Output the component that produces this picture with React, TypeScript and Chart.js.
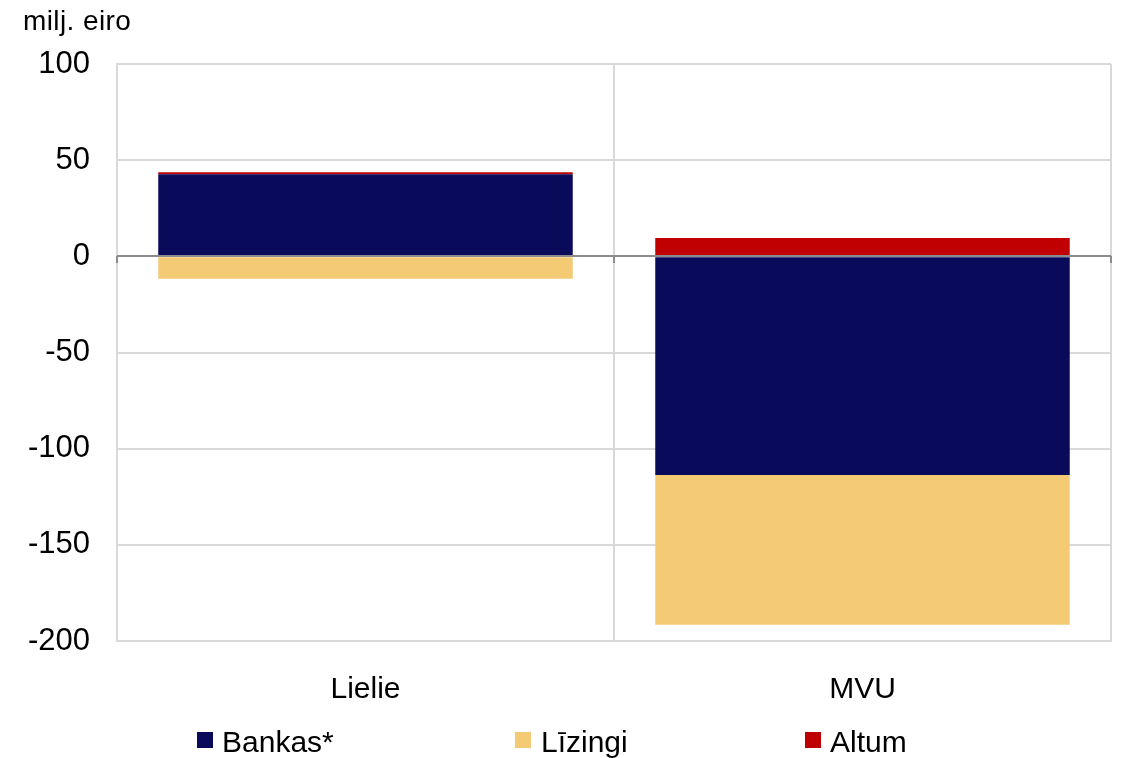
import React, { useEffect, useRef } from "react";
import { Chart, registerables } from "chart.js";

Chart.register(...registerables);

const categories = ["Lielie", "MVU"];
const bankas = [42.7, -113.7];
const lizingi = [-11.6, -77.8];
const altum = [1.0, 9.5];
const seriesNames = ["Bankas*", "Līzingi", "Altum"];
const seriesColors = ["#0a0a5a", "#f5ca75", "#c00000"];
const yMin = -200;
const yMax = 100;
const yStep = 50;
const unitLabel = "milj. eiro";

const FONT = "'Liberation Sans', Arial, sans-serif";

const zeroLinePlugin = {
  id: "zeroLine",
  afterDatasetsDraw(chart: any) {
    const { ctx } = chart;
    const x = chart.scales.x;
    const y = chart.scales.y;
    const y0 = Math.round(y.getPixelForValue(0));
    ctx.save();
    ctx.strokeStyle = "#8c8c8c";
    ctx.lineWidth = 2;
    ctx.beginPath();
    ctx.moveTo(x.left, y0);
    ctx.lineTo(x.right, y0);
    const mid = (x.getPixelForValue(0) + x.getPixelForValue(1)) / 2;
    [x.left, mid, x.right].forEach((px: number) => {
      ctx.moveTo(px, y0);
      ctx.lineTo(px, y0 + 7);
    });
    ctx.stroke();
    ctx.restore();
  },
};

export default function App() {
  const ref = useRef<HTMLCanvasElement | null>(null);

  useEffect(() => {
    if (!ref.current) return;
    const chart = new Chart(ref.current, {
      type: "bar",
      data: {
        labels: categories,
        datasets: [
          { label: seriesNames[0], data: bankas, backgroundColor: seriesColors[0] },
          { label: seriesNames[1], data: lizingi, backgroundColor: seriesColors[1] },
          { label: seriesNames[2], data: altum, backgroundColor: seriesColors[2] },
        ],
      },
      options: {
        animation: false,
        responsive: false,
        maintainAspectRatio: false,
        layout: { padding: { left: 0, right: 16, top: 64, bottom: 0 } },
        datasets: { bar: { categoryPercentage: 1, barPercentage: 0.834 } },
        plugins: {
          legend: { display: false },
          tooltip: { enabled: false },
          title: { display: false },
        },
        scales: {
          x: {
            stacked: true,
            afterFit: (s: any) => {
              s.height = 117;
            },
            grid: { color: "#d9d9d9", lineWidth: 2, drawTicks: false, offset: true },
            border: { color: "#d9d9d9", width: 2 },
            ticks: { color: "#000", font: { family: FONT, size: 30 }, padding: 31 },
          },
          y: {
            stacked: true,
            min: yMin,
            max: yMax,
            afterFit: (s: any) => {
              s.width = 117;
            },
            grid: { color: "#d9d9d9", lineWidth: 2, drawTicks: false },
            border: { color: "#d9d9d9", width: 2 },
            ticks: {
              stepSize: yStep,
              color: "#000",
              font: { family: FONT, size: 31 },
              padding: 27,
            },
          },
        },
      },
      plugins: [zeroLinePlugin],
    });
    return () => chart.destroy();
  }, []);

  const legendPos = [
    { box: 197, text: 222 },
    { box: 515, text: 541 },
    { box: 805, text: 830 },
  ];

  return (
    <div
      style={{
        position: "fixed",
        left: 0,
        top: 0,
        width: 1127,
        height: 758,
        background: "#fff",
        overflow: "hidden",
      }}
    >
      <canvas ref={ref} width={1127} height={758} style={{ position: "absolute", left: 0, top: 0 }} />
      <div
        style={{
          position: "absolute",
          left: 23,
          top: 7,
          fontFamily: FONT,
          fontSize: 28,
          lineHeight: "28px",
          letterSpacing: "0.4px",
          color: "#000",
          whiteSpace: "nowrap",
        }}
      >
        {unitLabel}
      </div>
      {seriesNames.map((name, i) => (
        <React.Fragment key={name}>
          <div
            style={{
              position: "absolute",
              left: legendPos[i].box,
              top: 732,
              width: 16,
              height: 16,
              background: seriesColors[i],
            }}
          />
          <div
            style={{
              position: "absolute",
              left: legendPos[i].text,
              top: 727,
              fontFamily: FONT,
              fontSize: 30,
              lineHeight: "30px",
              color: "#000",
              whiteSpace: "nowrap",
            }}
          >
            {name}
          </div>
        </React.Fragment>
      ))}
    </div>
  );
}
